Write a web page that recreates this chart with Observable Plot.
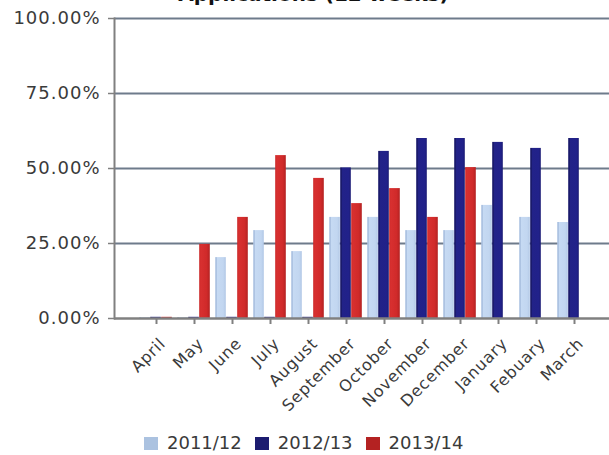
<!DOCTYPE html>
<html><head><meta charset="utf-8">
<script src="https://cdn.jsdelivr.net/npm/d3@7"></script>
<script src="https://cdn.jsdelivr.net/npm/@observablehq/plot@0.6"></script>
<style>
body{margin:0;background:#fff;width:609px;height:455px;overflow:hidden;position:relative;font-family:"DejaVu Sans",sans-serif;}
#title{position:absolute;left:9px;top:-16px;width:609px;text-align:center;font:bold 20px/20px "DejaVu Sans",sans-serif;color:#111;white-space:nowrap;}
#chart{position:absolute;left:0;top:0;}
#legend{position:absolute;left:144px;top:434px;display:flex;align-items:center;font-size:18px;line-height:18px;color:#3a3a3a;white-space:nowrap;}
#legend .sw{display:inline-block;width:14px;height:13px;margin-right:9px;}
#legend .it{display:flex;align-items:center;margin-right:13px;}
#chart g[aria-label="y-axis tick label"] text{letter-spacing:1px;}
#chart g[aria-label="text"] text{letter-spacing:0.8px;}
</style></head><body>
<div id="title">Applications (12 weeks)</div>
<div id="chart"></div>
<div id="legend"></div>
<script>
const months = ["April","May","June","July","August","September","October","November","December","January","Febuary","March"];
const series = ["2011/12","2012/13","2013/14"];
const values2011 = [0.3, 0.3, 20.3, 29.3, 22.3, 33.7, 33.7, 29.3, 29.3, 37.7, 33.7, 32.0];
const values2012 = [0.4, 0.4, 0.4, 0.4, 0.4, 50.2, 55.7, 60.0, 60.0, 58.7, 56.7, 60.0];
const values2013 = [0.4, 24.7, 33.7, 54.3, 46.7, 38.3, 43.3, 33.7, 50.3, null, null, null];
const yTicks = [0, 25, 50, 75, 100];
const legendColors = ["#abc2e0", "#1c1c70", "#b42222"];

const rows = (vals, s) => months.map((m, i) => ({month: m, series: s, value: vals[i]})).filter(d => d.value != null);

const chart = Plot.plot({
  width: 609, height: 425,
  marginTop: 18, marginBottom: 107, marginLeft: 114, marginRight: 0,
  x: {type: "band", domain: months, range: [134.8, 595.6], padding: 0, label: null},
  y: {domain: [0, 100], label: null},
  style: {fontFamily: '"DejaVu Sans", sans-serif', color: "#3a3a3a", background: "transparent", overflow: "visible"},
  marks: [
    Plot.ruleY(yTicks.filter(d => d > 0), {stroke: "#6e7b8b", strokeWidth: 2}),
    Plot.barY(rows(values2011, series[0]), {x: "month", y: "value", fill: "url(#gLight)", insetLeft: 2.2, insetRight: 25.2}),
    Plot.barY(rows(values2012, series[1]), {x: "month", y: "value", fill: "url(#gNavy)", insetLeft: 13.2, insetRight: 14.2}),
    Plot.barY(rows(values2013, series[2]), {x: "month", y: "value", fill: "url(#gRed)", insetLeft: 24.2, insetRight: 3.2}),
    Plot.ruleY([0], {stroke: "#808080", strokeWidth: 2.5}),
    Plot.frame({anchor: "left", stroke: "#808080", strokeWidth: 2}),
    Plot.axisY({ticks: yTicks, tickSize: 6, tickPadding: 8, tickFormat: d => d.toFixed(2) + "%", fontSize: 18, stroke: "#808080", strokeWidth: 1.5}),
    Plot.axisX({tickSize: 6, tickFormat: () => "", stroke: "#808080", strokeWidth: 2}),
    Plot.text(months, {x: d => d, frameAnchor: "bottom", rotate: -45, textAnchor: "end", lineAnchor: "bottom", dx: 10, dy: 26, fontSize: 16, fill: "#3a3a3a"})
  ]
});

// gradients for the bar fills
const defs = d3.select(chart).insert("defs", ":first-child");
const grad = (id, stops) => {
  const g = defs.append("linearGradient").attr("id", id).attr("x1", "0").attr("x2", "1").attr("y1", "0").attr("y2", "0");
  stops.forEach(([o, c]) => g.append("stop").attr("offset", o).attr("stop-color", c));
};
grad("gLight", [["0%", "#adc3e2"], ["16%", "#adc3e2"], ["17%", "#c6daf3"], ["75%", "#c2d6f0"], ["100%", "#b2c8e6"]]);
grad("gNavy", [["0%", "#1a1a6c"], ["14%", "#1a1a6c"], ["15%", "#222288"], ["80%", "#21218a"], ["100%", "#1b1b74"]]);
grad("gRed", [["0%", "#c82626"], ["15%", "#d83030"], ["70%", "#d02a2a"], ["100%", "#b42222"]]);

document.getElementById("chart").appendChild(chart);

const legend = document.getElementById("legend");
series.forEach((s, i) => {
  const it = document.createElement("span");
  it.className = "it";
  const sw = document.createElement("span");
  sw.className = "sw";
  sw.style.background = legendColors[i];
  it.appendChild(sw);
  it.appendChild(document.createTextNode(s));
  legend.appendChild(it);
});
</script>
</body></html>
